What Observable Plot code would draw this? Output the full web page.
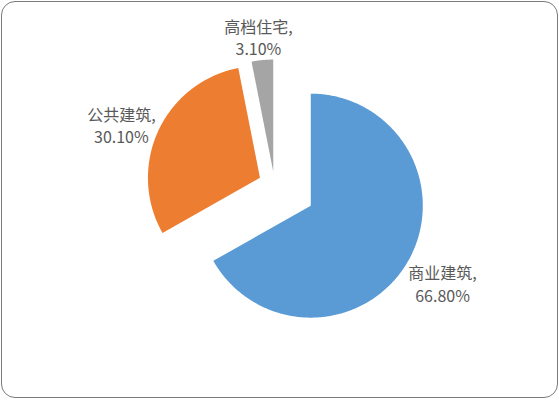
<!DOCTYPE html>
<html><head><meta charset="utf-8">
<script src="https://cdn.jsdelivr.net/npm/d3@7"></script>
<script src="https://cdn.jsdelivr.net/npm/@observablehq/plot@0.6"></script>
<style>
body{margin:0;background:#fff;}
#wrap{position:relative;width:559px;height:401px;overflow:hidden;}
#chart{position:absolute;left:0;top:0;}
#frame{position:absolute;left:1px;top:1px;width:557px;height:397px;box-sizing:border-box;border:1.5px solid #7a7a7a;border-radius:14px;pointer-events:none;}
</style>
</head><body>
<div id="wrap"><div id="chart"></div><div id="frame"></div></div>
<script>
const categories = ["商业建筑", "公共建筑", "高档住宅"];
const values = [66.8, 30.1, 3.1];
const percentLabels = ["66.80%", "30.10%", "3.10%"];
const colors = ["#5B9BD5", "#ED7D31", "#A5A5A5"];

// layout (pixels)
const L = {cx: 274, cy: 184, r: 112, explode: [42, 16, 13], gap: 10, boxW: 61, boxH: 39};

const arcs = d3.pie().sort(null).startAngle(0).endAngle(2 * Math.PI)(values);
const slices = arcs.map((p, i) => {
  const mid = (p.startAngle + p.endAngle) / 2;
  const dx = Math.sin(mid), dy = -Math.cos(mid);
  const vx = L.cx + L.explode[i] * dx, vy = L.cy + L.explode[i] * dy;
  const pts = [{x: vx, y: vy}];
  const n = Math.max(4, Math.ceil((p.endAngle - p.startAngle) / 0.01));
  for (let k = 0; k <= n; k++) {
    const a = p.startAngle + (p.endAngle - p.startAngle) * k / n;
    pts.push({x: vx + L.r * Math.sin(a), y: vy - L.r * Math.cos(a)});
  }
  pts.push({x: vx, y: vy});
  const d = L.explode[i] + L.r + L.gap;
  const px = L.cx + d * dx, py = L.cy + d * dy;
  return {
    pts, color: colors[i],
    label: {
      x: px + dx * L.boxW / 2,
      y: py + dy * L.boxH / 2,
      text: categories[i] + ",\n" + percentLabels[i]
    }
  };
});

const chart = Plot.plot({
  width: 559, height: 401, margin: 0,
  x: {domain: [0, 559], range: [0, 559], axis: null},
  y: {domain: [0, 401], range: [0, 401], axis: null},
  style: {background: "#fff", fontFamily: "'Noto Sans CJK SC', 'Noto Sans', sans-serif"},
  marks: [
    ...slices.map(s => Plot.line(s.pts, {x: "x", y: "y", fill: s.color, stroke: "none"})),
    Plot.text(slices.map(s => s.label), {
      x: "x", y: "y", text: "text", fill: "#595959", fontSize: 16, dy: 6,
      lineHeight: 1.42, textAnchor: "middle", lineAnchor: "middle"
    })
  ]
});
document.getElementById("chart").appendChild(chart);
</script>
</body></html>
